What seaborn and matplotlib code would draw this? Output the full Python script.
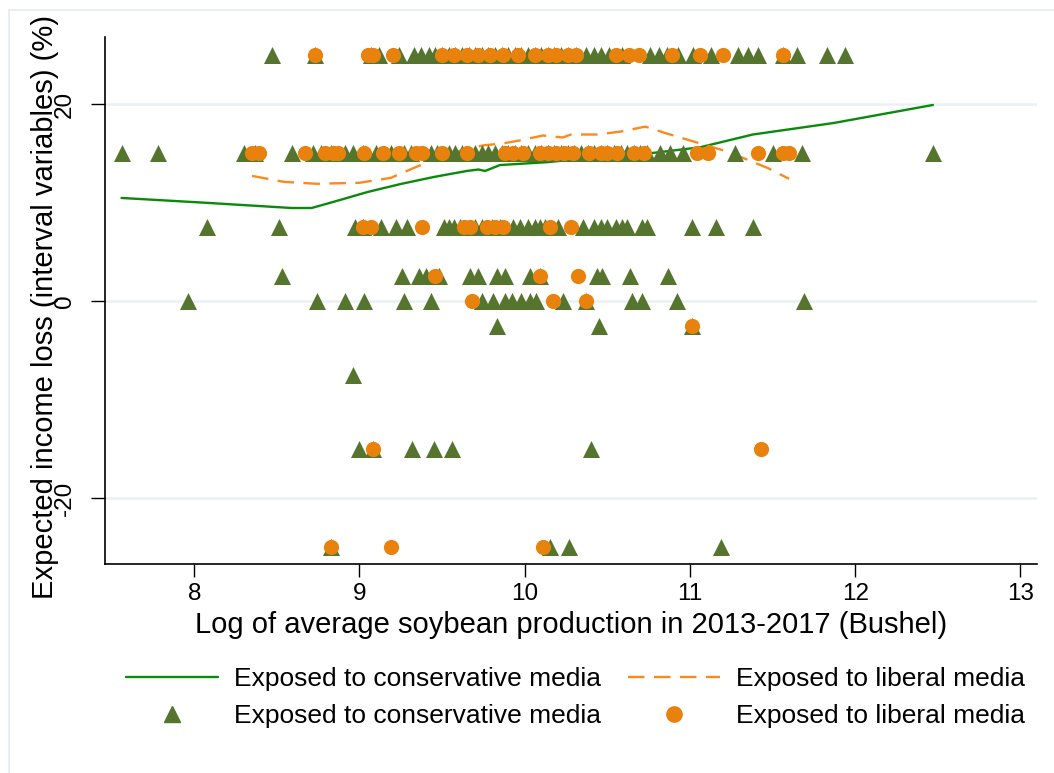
import numpy as np
import pandas as pd
import matplotlib
matplotlib.use("Agg")
import matplotlib.pyplot as plt
import seaborn as sns
from matplotlib.lines import Line2D
from matplotlib.patches import Rectangle

# Scatter values: x positions grouped by expected-loss level
cons_y25 = [8.47, 8.73, 9.07, 9.12, 9.24, 9.33, 9.37, 9.42, 9.46, 9.50, 9.54, 9.58,
            9.62, 9.66, 9.70, 9.74, 9.78, 9.82, 9.86, 9.90, 9.94, 9.98, 10.02, 10.06,
            10.10, 10.14, 10.18, 10.22, 10.26, 10.31, 10.37, 10.42, 10.46, 10.51,
            10.59, 10.76, 10.81, 10.86, 10.93, 11.02, 11.13, 11.29, 11.35, 11.41,
            11.56, 11.65, 11.83, 11.94]
lib_y25 = [8.73, 9.05, 9.08, 9.20, 9.50, 9.57, 9.65, 9.72, 9.79, 9.87, 9.96, 10.06,
           10.14, 10.19, 10.26, 10.31, 10.55, 10.63, 10.69, 10.89, 11.06, 11.20, 11.56]

cons_y15 = [7.56, 7.78, 8.30, 8.37, 8.59, 8.72, 8.77, 8.83, 8.91, 8.96, 9.02, 9.10,
            9.19, 9.27, 9.31, 9.43, 9.47, 9.54, 9.58, 9.62, 9.70, 9.74, 9.78, 9.82,
            9.86, 9.90, 9.94, 9.98, 10.02, 10.06, 10.10, 10.14, 10.18, 10.22, 10.26,
            10.30, 10.34, 10.38, 10.42, 10.46, 10.50, 10.54, 10.58, 10.62, 10.66,
            10.70, 10.74, 10.82, 10.88, 10.96, 11.27, 11.50, 11.68, 12.47]
lib_y15 = [8.35, 8.39, 8.67, 8.79, 8.84, 8.87, 9.03, 9.14, 9.24, 9.34, 9.38, 9.50,
           9.65, 9.88, 9.93, 9.99, 10.09, 10.14, 10.19, 10.24, 10.29, 10.39, 10.46,
           10.50, 10.56, 10.66, 10.72, 11.04, 11.11, 11.41, 11.56, 11.60]

cons_y7 = [8.08, 8.51, 8.97, 9.02, 9.13, 9.22, 9.29, 9.51, 9.54, 9.57, 9.61, 9.70,
           9.74, 9.80, 9.85, 9.93, 9.97, 10.02, 10.06, 10.09, 10.12, 10.20, 10.35,
           10.42, 10.46, 10.50, 10.55, 10.59, 10.62, 10.71, 10.74, 11.01, 11.16, 11.38]
lib_y7 = [9.02, 9.07, 9.38, 9.63, 9.67, 9.77, 9.82, 9.87, 10.15, 10.28]

cons_y2 = [8.53, 9.26, 9.36, 9.40, 9.48, 9.67, 9.72, 9.83, 9.88, 10.03, 10.09, 10.44,
           10.47, 10.64, 10.87]
lib_y2 = [9.46, 10.09, 10.32]

cons_y0 = [7.96, 8.74, 8.91, 9.03, 9.27, 9.43, 9.74, 9.81, 9.88, 9.92, 9.98, 10.03,
           10.07, 10.23, 10.37, 10.65, 10.71, 10.92, 11.69]
lib_y0 = [9.68, 10.17, 10.37]

cons_ym2 = [9.83, 10.45, 11.01]
lib_ym2 = [11.01]

cons_ym7 = [8.96]
lib_ym7 = []

cons_ym15 = [9.00, 9.08, 9.32, 9.45, 9.56, 10.40]
lib_ym15 = [9.08, 11.43]

cons_ym25 = [8.83, 10.15, 10.27, 11.19]
lib_ym25 = [8.83, 9.19, 10.11]

levels = [25, 15, 7.5, 2.5, 0, -2.5, -7.5, -15, -25]
cons_rows = [cons_y25, cons_y15, cons_y7, cons_y2, cons_y0, cons_ym2, cons_ym7, cons_ym15, cons_ym25]
lib_rows = [lib_y25, lib_y15, lib_y7, lib_y2, lib_y0, lib_ym2, lib_ym7, lib_ym15, lib_ym25]

# Fitted (smoothed) lines
cons_fit_x = [7.56, 8.04, 8.59, 8.71, 8.84, 9.05, 9.25, 9.45, 9.65, 9.72, 9.76, 9.85,
              10.14, 10.26, 10.66, 11.06, 11.38, 11.87, 12.47]
cons_fit_y = [10.46, 10.0, 9.44, 9.44, 10.05, 11.07, 11.88, 12.59, 13.2, 13.35, 13.2, 13.8,
              14.1, 14.3, 14.8, 15.6, 16.9, 18.07, 19.9]
lib_fit_x = [8.35, 8.54, 8.74, 9.00, 9.19, 9.37, 9.45, 9.75, 9.87, 9.97, 10.11, 10.23,
             10.28, 10.44, 10.58, 10.73, 10.86, 11.00, 11.24, 11.31, 11.47, 11.60]
lib_fit_y = [12.7, 12.1, 11.9, 12.0, 12.5, 13.8, 14.6, 15.8, 16.0, 16.3, 16.8, 16.6,
             16.9, 16.9, 17.2, 17.7, 17.0, 16.3, 15.1, 14.6, 13.5, 12.4]

lab_cons = "Exposed to conservative media"
lab_lib = "Exposed to liberal media"

rows = []
for lev, xs in zip(levels, cons_rows):
    rows += [(x, lev, "cons") for x in xs]
for lev, xs in zip(levels, lib_rows):
    rows += [(x, lev, "lib") for x in xs]
pts = pd.DataFrame(rows, columns=["x", "y", "grp"])

c_tri = "#55752f"
c_dot = "#e8820c"
c_gline = "#0a8a0a"
c_oline = "#fb8a1c"

sns.set_style("white")
plt.rcParams["font.family"] = ["Liberation Sans", "DejaVu Sans"]
plt.rcParams["text.color"] = "black"
plt.rcParams["axes.labelcolor"] = "black"
plt.rcParams["xtick.color"] = "black"
plt.rcParams["ytick.color"] = "black"
plt.rcParams["axes.unicode_minus"] = False

fig = plt.figure(figsize=(10.54, 7.73), dpi=100)
fig.patches.append(Rectangle((9 / 1054, -0.1), 1.2, 1 - 10 / 773 + 0.1,
                             transform=fig.transFigure, fill=False,
                             edgecolor="#e3eaee", linewidth=1.2))
ax = fig.add_axes([105 / 1054, 1 - 564 / 773, (1037 - 105) / 1054, (564 - 37) / 773])

for g in [20, 0, -20]:
    ax.axhline(g, color="#eaf0f4", lw=1.8, zorder=0)

sns.lineplot(x=cons_fit_x, y=cons_fit_y, ax=ax, color=c_gline, lw=1.7,
             estimator=None, sort=False, zorder=2)
sns.lineplot(x=lib_fit_x, y=lib_fit_y, ax=ax, color=c_oline, lw=1.7,
             estimator=None, sort=False, dashes=False, zorder=2)
ax.lines[-1].set_dashes((7, 4))

sns.scatterplot(data=pts[pts.grp == "cons"], x="x", y="y", ax=ax, marker="^",
                s=150, color=c_tri, linewidth=0, zorder=3, legend=False)
sns.scatterplot(data=pts[pts.grp == "lib"], x="x", y="y", ax=ax, marker="o",
                s=120, color=c_dot, linewidth=0, zorder=4, legend=False)

ax.set_xlim(7.46, 13.1)
ax.set_ylim(-26.7, 26.8)
ax.set_xticks([8, 9, 10, 11, 12, 13])
ax.set_yticks([-20, 0, 20])
ax.tick_params(axis="x", bottom=True, length=9, width=1, labelsize=17.5, pad=5)
ax.tick_params(axis="y", left=True, length=10, width=1, labelsize=17.5, pad=11,
               labelrotation=90)
for t in ax.get_yticklabels():
    t.set_va("center")
for s in ["top", "right"]:
    ax.spines[s].set_visible(False)
for s in ["left", "bottom"]:
    ax.spines[s].set_color("black")
    ax.spines[s].set_linewidth(1.2)

ax.set_xlabel("Log of average soybean production in 2013-2017 (Bushel)", fontsize=21, labelpad=4)
ax.set_ylabel("")
fig.text(45 / 1054, 1 - 307 / 773, "Expected income loss (interval variables) (%)",
         rotation=90, ha="center", va="center", fontsize=21)

handles = [
    Line2D([], [], color=c_gline, lw=1.7),
    Line2D([], [], marker="^", color=c_tri, linestyle="none", markersize=12),
    Line2D([], [], color=c_oline, lw=1.7, dashes=(7, 4)),
    Line2D([], [], marker="o", color=c_dot, linestyle="none", markersize=11),
]
labels = [lab_cons, lab_cons, lab_lib, lab_lib]
fig.legend(handles, labels, loc="upper left", bbox_to_anchor=(126 / 1054, 1 - 667 / 773),
           ncol=2, frameon=False, fontsize=19, handlelength=3.5, handletextpad=0.6,
           columnspacing=1.0, labelspacing=0.5, borderpad=0, borderaxespad=0)

fig.savefig("out.png", dpi=100)
